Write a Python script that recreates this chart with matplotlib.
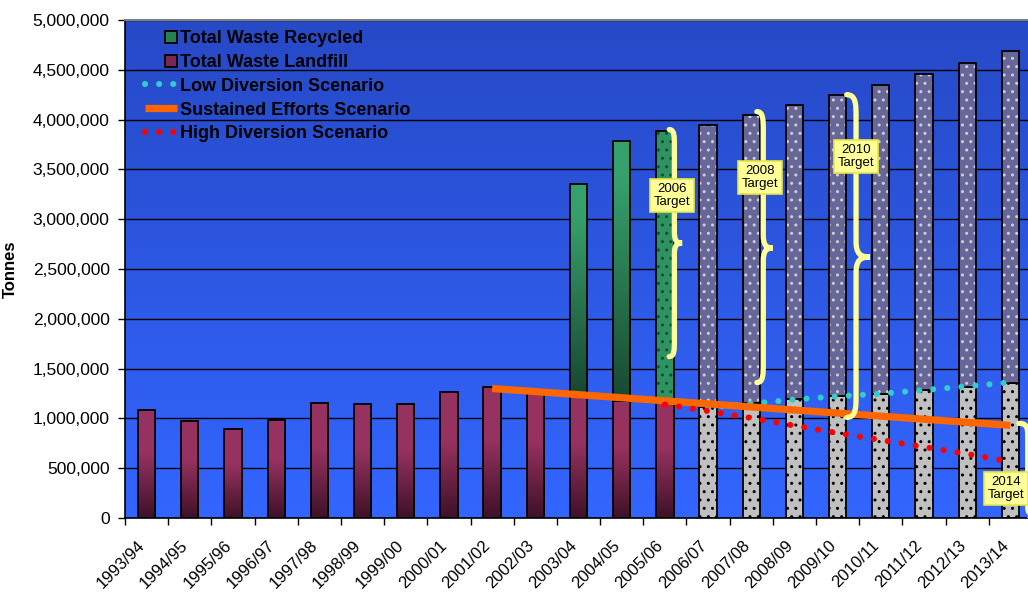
import numpy as np
import matplotlib
matplotlib.use("Agg")
import matplotlib.pyplot as plt
from matplotlib.colors import LinearSegmentedColormap
from matplotlib.patches import Rectangle, PathPatch
from matplotlib.path import Path
from matplotlib.lines import Line2D
from matplotlib.legend_handler import HandlerPatch
from matplotlib.ticker import FuncFormatter
from matplotlib.transforms import ScaledTranslation

plt.rcParams['font.family'] = ['Liberation Sans', 'DejaVu Sans']

years = ["1993/94", "1994/95", "1995/96", "1996/97", "1997/98", "1998/99",
         "1999/00", "2000/01", "2001/02", "2002/03", "2003/04", "2004/05",
         "2005/06", "2006/07", "2007/08", "2008/09", "2009/10", "2010/11",
         "2011/12", "2012/13", "2013/14"]

# actual landfill 1993/94 - 2005/06
landfill = [1080000, 970000, 890000, 980000, 1150000, 1140000, 1140000,
            1270000, 1320000, 1280000, 1260000, 1170000, 1150000]
# actual recycled (stacked on landfill)
recycled_years = ["2003/04", "2004/05"]
recycled = [2090000, 2620000]
target_years = ["2005/06"]
target_recycled = [2740000]

# projections 2006/07 - 2013/14
proj_years = years[13:]
proj_landfill = [1110000, 1150000, 1190000, 1220000, 1250000, 1290000, 1320000, 1360000]
proj_total = [3950000, 4050000, 4150000, 4250000, 4350000, 4460000, 4570000, 4690000]

low_years = years[13:]
low_div = [1110000, 1148000, 1190000, 1222000, 1248000, 1285000, 1322000, 1362000]
sust_years = ["2001/02", "2013/14"]
sustained = [1300000, 930000]
high_years = years[12:]
high_div = [1140000, 1074000, 1004000, 927000, 853000, 783000, 713000, 643000, 565000]

# callouts: label, brace x, tip x, top, bottom, tip y, box x, box y
targets = [("2006\nTarget", 12.1, 12.4, 3900000, 1620000, 2760000, 12.16, 3240000),
           ("2008\nTarget", 14.13, 14.5, 4080000, 1360000, 2710000, 14.2, 3420000),
           ("2010\nTarget", 16.21, 16.75, 4250000, 1010000, 2620000, 16.43, 3630000),
           ("2014\nTarget", 20.2, 20.7, 950000, -900000, 20000, 19.9, 296000)]

pos = {y: i for i, y in enumerate(years)}
W = 0.4

fig = plt.figure(figsize=(10.28, 5.94), dpi=100)
ax = fig.add_axes([125/1028, 76/594, 907/1028, 498/594])

# plot area gradient
bg = LinearSegmentedColormap.from_list('bg', ['#3366FF', '#2649C6'])
ax.imshow(np.linspace(0, 1, 256).reshape(-1, 1), cmap=bg, origin='lower',
          extent=[0, 1, 0, 1], transform=ax.transAxes, aspect='auto', zorder=-1)
ax.patch.set_facecolor('none')


def grad_fill(bars, top, bottom, mid=0.6):
    cm = LinearSegmentedColormap.from_list('g', [(0, bottom), (mid, top), (1, top)])
    g = np.linspace(0, 1, 256).reshape(-1, 1)
    for b in bars:
        x, y = b.get_xy()
        im = ax.imshow(g, cmap=cm, origin='lower', aspect='auto', zorder=2,
                       extent=[x, x + b.get_width(), y, y + b.get_height()])
        im.set_clip_path(b)


maroon_top, maroon_bot = '#963260', '#3E1127'
green_top, green_bot = '#36A06C', '#184832'

xl = [pos[y] for y in years[:len(landfill)]]
b1 = ax.bar(xl, landfill, W, facecolor='none', edgecolor='black', lw=1.3, zorder=3)
grad_fill(b1, maroon_top, maroon_bot, 0.6)

xr = [pos[y] for y in recycled_years]
bot_r = [landfill[i] for i in xr]
b2 = ax.bar(xr, recycled, W, bottom=bot_r, facecolor='none', edgecolor='black', lw=1.3, zorder=3)
grad_fill(b2, green_top, green_bot, 0.85)

xt = [pos[y] for y in target_years]
bot_t = [landfill[i] for i in xt]
ax.bar(xt, target_recycled, W, bottom=bot_t, facecolor='#2E9362', edgecolor='#1B4A33',
       lw=0, hatch='..', zorder=2)
ax.bar(xt, target_recycled, W, bottom=bot_t, fill=False, edgecolor='black', lw=1.3, zorder=3)

xp = [pos[y] for y in proj_years]
ax.bar(xp, proj_landfill, W, facecolor='#C0C0C0', edgecolor='black', lw=1.3,
       hatch='..', zorder=2)
proj_rec = [t - l for t, l in zip(proj_total, proj_landfill)]
ax.bar(xp, proj_rec, W, bottom=proj_landfill, facecolor='#666699', edgecolor='#D0D0D0',
       lw=0, hatch='..', zorder=2)
ax.bar(xp, proj_rec, W, bottom=proj_landfill, fill=False, edgecolor='black', lw=1.3, zorder=3)

dot = dict(linestyle=(0, (0.01, 2.3)), lw=4.4, dash_capstyle='round')
ax.plot([pos[y] for y in low_years], low_div, color='#33CCCC', zorder=4, **dot)
ax.plot([pos[y] for y in sust_years], sustained, color='#FF6600', lw=5.2, zorder=5,
        solid_capstyle='butt')
ax.plot([pos[y] for y in high_years], high_div, color='#FF0000', zorder=6, **dot)


def brace(x0, xt, top, bot, mid):
    xm = x0 + (xt - x0) * 0.4
    h = top - bot
    k = xm + (xt - xm) * 0.3
    verts = [(x0, top), (xm, top), (xm, top - 0.03*h), (xm, top - 0.07*h),
             (xm, mid + 0.05*h),
             (xm, mid + 0.01*h), (k, mid), (xt, mid),
             (k, mid), (xm, mid - 0.01*h), (xm, mid - 0.05*h),
             (xm, bot + 0.07*h),
             (xm, bot + 0.03*h), (xm, bot), (x0, bot)]
    codes = [Path.MOVETO] + [Path.CURVE4]*3 + [Path.LINETO] + [Path.CURVE4]*6 + \
            [Path.LINETO] + [Path.CURVE4]*3
    ax.add_patch(PathPatch(Path(verts, codes), fill=False, edgecolor='#FFFF99',
                           lw=3.8, capstyle='round', zorder=7))


for lab, x0, xtip, top, bot, mid, bx, by in targets:
    brace(x0, xtip, top, bot, mid)
    ax.text(bx, by, lab, ha='center', va='center', fontsize=9.5, zorder=8,
            linespacing=1.15,
            bbox=dict(boxstyle='square,pad=0.3', facecolor='#FFFF99', edgecolor='#E8E840', lw=1.2))

ax.set_xlim(-0.5, len(years) - 0.5)
ax.set_ylim(0, 5000000)
ax.set_yticks(np.arange(0, 5000001, 500000))
ax.yaxis.set_major_formatter(FuncFormatter(lambda v, p: f"{int(v):,}"))
ax.set_axisbelow(True)
ax.yaxis.grid(True, color='black', lw=1.0)

ax.set_xticks(np.arange(-0.5, len(years), 1.0))
ax.set_xticks(np.arange(len(years)), years, minor=True)
ax.tick_params(axis='x', which='major', labelbottom=False, length=5, width=1)
ax.tick_params(axis='x', which='minor', length=0, pad=18, labelsize=12)
ax.tick_params(axis='y', length=5, width=1, pad=6, labelsize=12.5)
off = ScaledTranslation(-4/100, 0, fig.dpi_scale_trans)
for t in ax.get_xticklabels(minor=True):
    t.set_rotation(45)
    t.set_ha('right')
    t.set_va('center')
    t.set_rotation_mode('anchor')
    t.set_transform(t.get_transform() + off)

ax.set_ylabel("Tonnes", fontsize=12, fontweight='bold')
ax.yaxis.set_label_coords(-0.118, 0.5)

for s in ['left', 'bottom']:
    ax.spines[s].set_color('black')
    ax.spines[s].set_linewidth(1.2)
ax.spines['top'].set_color('#808080')
ax.spines['top'].set_linewidth(1.5)
ax.spines['right'].set_visible(False)


def square(legend, orig_handle, xdescent, ydescent, width, height, fontsize):
    s = height * 0.92
    return Rectangle((-xdescent + width - s, -ydescent), s, s)


handles = [Rectangle((0, 0), 1, 1, facecolor='#2A7F55', edgecolor='black', lw=1.3),
           Rectangle((0, 0), 1, 1, facecolor='#7A2850', edgecolor='black', lw=1.3),
           Line2D([], [], color='#33CCCC', **dot),
           Line2D([], [], color='#FF6600', lw=5.2, solid_capstyle='butt'),
           Line2D([], [], color='#FF0000', **dot)]
labels = ["Total Waste Recycled", "Total Waste Landfill", "Low Diversion Scenario",
          "Sustained Efforts Scenario", "High Diversion Scenario"]
leg = ax.legend(handles, labels, loc='upper left', bbox_to_anchor=(0.022, 0.98),
                frameon=False, borderpad=0, borderaxespad=0, handlelength=1.75,
                handletextpad=0.2, labelspacing=0.38,
                prop=dict(size=13, weight='bold'),
                handler_map={Rectangle: HandlerPatch(patch_func=square)})
leg.set_zorder(9)

fig.savefig("out.png", dpi=100)
